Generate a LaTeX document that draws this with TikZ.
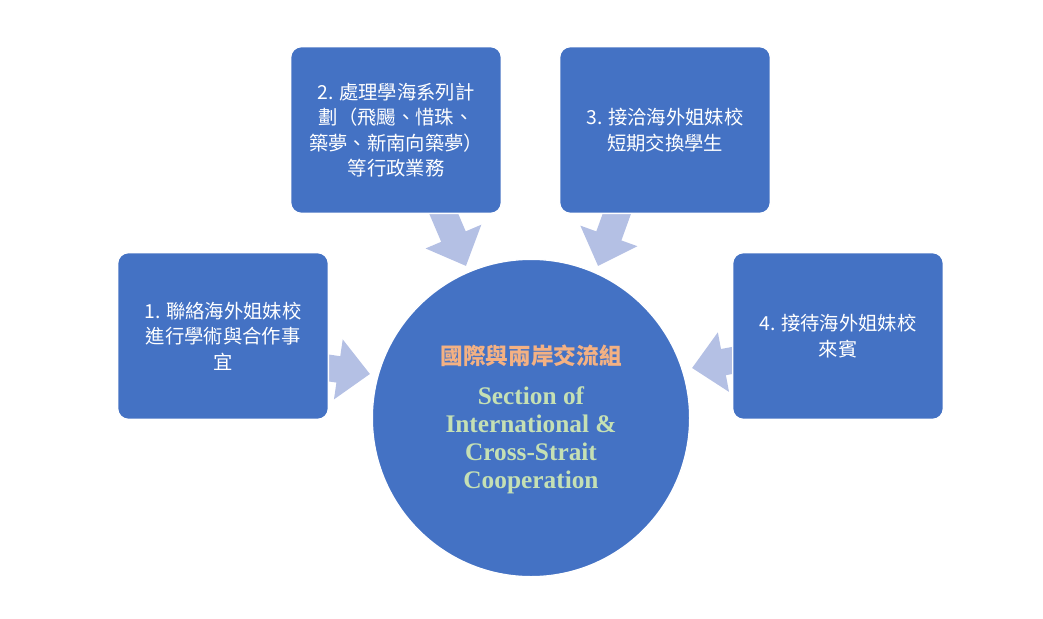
\documentclass[tikz,border=0pt]{standalone}
\usepackage{fontspec}
\setmainfont{Liberation Serif}
\newfontfamily\cjk{Noto Sans CJK TC}
\usetikzlibrary{arrows.meta}
\definecolor{boxblue}{HTML}{4472C4}
\definecolor{arrowgrey}{HTML}{B4C0E4}
\definecolor{titleorange}{HTML}{F4B183}
\definecolor{titlegreen}{HTML}{C5E0B4}
\begin{document}
\begin{tikzpicture}[
        x=0.75pt, y=-0.75pt,
        task/.style={draw=white, line width=1pt, fill=boxblue, rounded corners=8pt,
            minimum width=158pt, minimum height=125pt,
            align=center, text=white, font=\cjk\fontsize{14.5}{19}\selectfont},
        ar/.style={arrowgrey, line width=20pt, -{Triangle[length=24pt,width=44pt]}},
    ]
    \useasboundingbox (0,0) rectangle (1043,618);

    % connectors first, boxes on top
    \coordinate (a1) at (322,367);
    \coordinate (b1) at (370,374);
    \coordinate (a2) at (440,205);
    \coordinate (b2) at (466,266);
    \coordinate (a3) at (620,205);
    \coordinate (b3) at (598,266);
    \coordinate (a4) at (740,359);
    \coordinate (b4) at (692,368);
    \draw[ar] (a1) -- (b1);
    \draw[ar] (a2) -- (b2);
    \draw[ar] (a3) -- (b3);
    \draw[ar] (a4) -- (b4);

    \node[circle, fill=boxblue, draw=white, line width=1pt, minimum size=238pt](sec) at (531,418) {};
    \node[text=titleorange, font=\cjk\bfseries\fontsize{17}{20}\selectfont](name) at (531,356) {國際與兩岸交流組};
    \node[text=titlegreen, align=center, font=\bfseries\fontsize{19}{21}\selectfont](eng) at (531,440)
        {Section of\\International \&\\Cross-Strait\\Cooperation};

    \node[task](t1) at (223,336) {1. 聯絡海外姐妹校\\進行學術與合作事\\宜};
    \node[task](t2) at (396,130) {2. 處理學海系列計\\劃（飛颺、惜珠、\\築夢、新南向築夢）\\等行政業務};
    \node[task](t3) at (665,130) {3. 接洽海外姐妹校\\短期交換學生};
    \node[task](t4) at (838,336) {4. 接待海外姐妹校\\來賓};
\end{tikzpicture}
\end{document}
